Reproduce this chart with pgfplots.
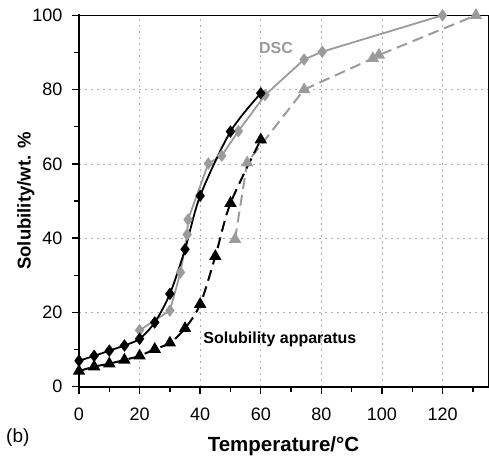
\documentclass[border=0pt]{standalone}
\usepackage{fontspec}
\setmainfont{Liberation Sans}
\usepackage{pgfplots}
\pgfplotsset{compat=1.18}
\definecolor{dscgray}{RGB}{155,155,155}
\begin{document}
\begin{tikzpicture}
\begin{axis}[
  scale only axis,
  width=409pt, height=371.4pt,
  xmin=0, xmax=135, ymin=0, ymax=100,
  xtick={0,20,...,120}, ytick={0,20,...,100},
  minor xtick={10,30,...,130}, minor ytick={10,30,...,90},
  tick align=outside,
  major tick length=7pt, minor tick length=5pt,
  tick style={black, line width=1.4pt},
  xtick pos=bottom, ytick pos=left,
  /pgf/number format/assume math mode=true,
  ticklabel style={font=\fontsize{18}{20}\selectfont},
  xticklabel style={yshift=-11pt},
  yticklabel style={xshift=-6pt},
  xmajorgrids, ymajorgrids,
  major grid style={dscgray!80, line width=0.6pt, dash pattern=on 2pt off 4pt},
  axis line style={line width=1pt},
  xlabel={\bfseries Temperature/°C},
  ylabel={\bfseries Solubility/wt. \%},
  xlabel style={font=\fontsize{20.5}{22}\selectfont\bfseries, yshift=-9pt},
  ylabel style={font=\fontsize{18.5}{20}\selectfont\bfseries, yshift=-9pt},
  clip=false,
]
% gray DSC series
\addplot[dscgray, line width=1.8pt, mark=diamond*, mark size=4.8pt, mark options={solid}]
 coordinates {(20,15.2) (30,20.5) (33.5,30.8) (35.7,41) (36,45) (42.7,60.1) (47.1,62.2) (52.6,68.8) (61.4,78.5) (74.3,88.1) (80.3,90.2) (120,100)};
\addplot[dscgray, line width=2pt, dash pattern=on 11pt off 6pt, mark=triangle*, mark size=5.2pt, mark options={solid}]
 coordinates {(51.5,39.7) (55.5,60.3) (74.3,80) (97,88.4) (99,89.3) (131,100)};
% black solubility apparatus series
\addplot[black, line width=1.8pt, smooth, mark=diamond*, mark size=4.8pt, mark options={solid}]
 coordinates {(0,7) (5,8.3) (10,9.7) (15,11.1) (20,12.9) (25,17.3) (30,25) (35,37) (40,51.4) (50,68.7) (60,79)};
\addplot[black, line width=2pt, smooth, dash pattern=on 11pt off 6pt, mark=triangle*, mark size=5.2pt, mark options={solid}]
 coordinates {(0,4.2) (5,5.4) (10,6.2) (15,7.2) (20,8.3) (25,10.1) (30,11.8) (35,15.7) (40,22.2) (45,35.1) (50,49.4) (60,66.5)};
\node[font=\fontsize{16}{18}\selectfont\bfseries, text=dscgray] at (axis cs:65,91.2) {DSC};
\node[font=\fontsize{16}{18}\selectfont\bfseries] at (axis cs:66.3,12.8) {Solubility apparatus};
\draw[line width=2.4pt, line cap=rect] (rel axis cs:0,1) -- (rel axis cs:0,0) -- (rel axis cs:1,0);
\node[anchor=west, inner sep=0pt, font=\fontsize{19}{21}\selectfont] at ([xshift=-73pt,yshift=-51pt]rel axis cs:0,0) {(b)};
\coordinate (SW) at ([xshift=-79pt,yshift=-69.3pt]rel axis cs:0,0);
\coordinate (NE) at ([xshift=1pt,yshift=15.3pt]rel axis cs:1,1);
\end{axis}
\pgfresetboundingbox
\path[use as bounding box] (SW) rectangle (NE);
\end{tikzpicture}
\end{document}
